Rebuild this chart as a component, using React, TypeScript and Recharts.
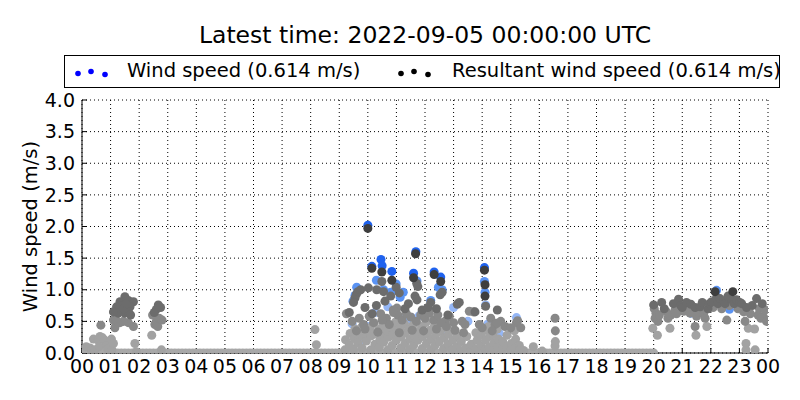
// Wind speed scatter for the last day, coloured by age (older = lighter).

import {
  ScatterChart, Scatter, XAxis, YAxis, ZAxis, CartesianGrid, Label,
} from "recharts";

const FONT = "'DejaVu Sans', sans-serif";

const hourTicks = [0, 1, 2, 3, 4, 5, 6, 7, 8, 9, 10, 11, 12, 13, 14, 15, 16, 17, 18, 19, 20, 21, 22, 23, 24];
const speedTicks = [0, 0.5, 1, 1.5, 2, 2.5, 3, 3.5, 4];

// readings of 0 m/s (the flat band along the axis)
const zeroHours = [
  0, 0.125, 0.25, 0.375, 0.5, 0.625, 0.75, 0.875, 1, 1.125, 1.25, 1.375, 1.5, 1.625, 1.75, 1.875,
  2, 2.125, 2.25, 2.375, 2.5, 2.625, 2.75, 2.875, 3, 3.125, 3.25, 3.375, 3.5, 3.625, 3.75, 3.875,
  4, 4.125, 4.25, 4.375, 4.5, 4.625, 4.75, 4.875, 5, 5.125, 5.25, 5.375, 5.5, 5.625, 5.75, 5.875,
  6, 6.125, 6.25, 6.375, 6.5, 6.625, 6.75, 6.875, 7, 7.125, 7.25, 7.375, 7.5, 7.625, 7.75, 7.875,
  8, 8.125, 8.25, 8.375, 8.5, 8.625, 8.75, 8.875, 9, 9.125, 9.25, 9.375, 9.5, 9.625, 9.75, 9.875,
  10, 10.125, 10.25, 10.375, 10.5, 10.625, 10.75, 10.875, 11, 11.125, 11.25, 11.375, 11.5, 11.625,
  11.75, 11.875, 12, 12.125, 12.25, 12.375, 12.5, 12.625, 12.75, 12.875, 13, 13.125, 13.25, 13.375,
  13.5, 13.625, 13.75, 13.875, 14, 14.125, 14.25, 14.375, 14.5, 14.625, 14.75, 14.875, 15, 15.125,
  15.25, 15.375, 15.5, 15.625, 15.75, 15.875, 16, 16.125, 16.25, 16.375, 16.5, 16.625, 16.75,
  16.875, 17, 17.125, 17.25, 17.375, 17.5, 17.625, 17.75, 17.875, 18, 18.125, 18.25, 18.375, 18.5,
  18.625, 18.75, 18.875, 19, 19.125, 19.25, 19.375, 19.5, 19.625, 19.75, 19.875, 20,
];

// wind speed [hour, m/s]
const windLight: [number, number][] = [
  [10.25, 0.64], [11.53, 0.56], [13.0, 0.72], [14.12, 0.76], [15.2, 0.56], [9.45, 0.46],
  [10.6, 0.4], [11.3, 0.55], [12.0, 0.63], [13.5, 0.5], [14.2, 0.46], [10.0, 0.42],
  [12.7, 0.36], [11.8, 0.59], [14.6, 0.31], [10.7, 0.73], [11.45, 0.52], [9.9, 0.2],
];
const windMid: [number, number][] = [
  [9.61, 1.04], [10.3, 1.15], [11.24, 0.96], [11.13, 0.88], [12.47, 1.04], [10.99, 1.09],
  [11.72, 1.14], [9.55, 0.91], [14.1, 0.96], [14.08, 1.13], [12.6, 1.0], [10.8, 0.96],
  [22.2, 0.99], [22.65, 0.69], [21.3, 0.63], [9.48, 0.82], [12.2, 0.83], [10.55, 1.0],
];
const windDark: [number, number][] = [
  [10.0, 2.02], [10.46, 1.48], [10.5, 1.38], [10.84, 1.29], [11.6, 1.26], [12.55, 1.2],
  [12.32, 1.28], [14.08, 1.35], [11.68, 1.6], [10.14, 1.37],
];

// resultant wind speed [hour, m/s]
const resultantOld: [number, number][] = [
  [0.15, 0.1], [0.28, 0.08], [0.35, 0.04], [0.4, 0.22], [0.45, 0.05], [0.57, 0.2], [0.6, 0.1],
  [0.63, 0.26], [0.72, 0.24], [0.8, 0.2], [0.85, 0.12], [0.9, 0.06], [1.03, 0.22], [1.05, 0.05],
  [1.1, 0.15], [1.85, 0.15], [1.9, 0.02], [2.44, 0.28], [2.78, 0.05], [8.15, 0.37], [8.2, 0.13],
  [9.2, 0.05], [9.22, 0.21], [9.35, 0.13], [9.38, 0.31], [9.5, 0.06], [9.52, 0.23], [9.55, 0.38],
  [9.65, 0.16], [9.68, 0.29], [9.8, 0.08], [9.82, 0.26], [9.78, 0.41], [9.95, 0.19], [9.97, 0.33],
  [10.1, 0.05], [10.12, 0.27], [10.08, 0.4], [10.25, 0.14], [10.27, 0.31], [10.22, 0.47],
  [10.4, 0.09], [10.42, 0.22], [10.38, 0.37], [10.55, 0.17], [10.57, 0.3], [10.53, 0.44],
  [10.7, 0.05], [10.72, 0.25], [10.68, 0.35], [10.85, 0.12], [10.87, 0.29], [10.83, 0.41],
  [11.0, 0.2], [11.02, 0.36], [10.97, 0.49], [11.15, 0.08], [11.17, 0.26], [11.13, 0.4],
  [11.3, 0.15], [11.32, 0.32], [11.28, 0.46], [11.45, 0.05], [11.47, 0.22], [11.43, 0.38],
  [11.6, 0.12], [11.62, 0.28], [11.58, 0.44], [11.75, 0.2], [11.77, 0.34], [11.9, 0.07],
  [11.92, 0.26], [11.88, 0.42], [12.05, 0.15], [12.07, 0.3], [12.03, 0.48], [12.2, 0.05],
  [12.22, 0.22], [12.18, 0.36], [12.35, 0.12], [12.37, 0.28], [12.33, 0.43], [12.5, 0.18],
  [12.52, 0.34], [12.65, 0.07], [12.67, 0.24], [12.63, 0.4], [12.8, 0.14], [12.82, 0.3],
  [12.95, 0.05], [12.97, 0.2], [12.93, 0.35], [13.1, 0.1], [13.12, 0.27], [13.25, 0.04],
  [13.27, 0.18], [13.46, 0.26], [13.44, 0.08], [13.6, 0.03], [13.62, 0.14], [13.8, 0.06],
  [13.82, 0.2], [13.78, 0.32], [13.95, 0.12], [13.97, 0.28], [14.1, 0.05], [14.12, 0.2],
  [14.08, 0.36], [14.25, 0.1], [14.27, 0.26], [14.23, 0.42], [14.4, 0.04], [14.42, 0.16],
  [14.38, 0.3], [14.55, 0.1], [14.57, 0.22], [14.53, 0.38], [14.7, 0.05], [14.72, 0.18],
  [14.85, 0.1], [14.87, 0.28], [15.0, 0.04], [15.02, 0.15], [15.15, 0.08], [15.17, 0.22],
  [15.13, 0.35], [15.3, 0.12], [15.32, 0.05], [15.45, 0.04], [15.79, 0.1], [16.1, 0.03],
  [16.55, 0.11], [16.56, 0.18], [19.97, 0.39], [20.13, 0.28], [21.48, 0.28], [23.23, 0.15],
  [23.55, 0.05], [23.23, 0.05], [23.31, 0.39], [23.53, 0.38], [21.86, 0.42], [20.57, 0.39],
];
const resultantMid: [number, number][] = [
  [0.66, 0.44], [2.47, 0.6], [2.55, 0.45], [2.6, 0.5], [2.65, 0.42], [2.7, 0.55], [2.8, 0.52],
  [1.15, 0.4], [1.8, 0.42], [1.62, 0.48], [1.33, 0.48], [1.45, 0.5], [1.21, 0.51], [1.1, 0.52],
  [9.25, 0.62], [9.45, 0.5], [9.7, 0.55], [9.85, 0.45], [10.05, 0.58], [10.2, 0.48], [10.45, 0.62],
  [10.65, 0.55], [10.9, 0.64], [11.05, 0.6], [11.2, 0.52], [11.35, 0.62], [11.5, 0.57],
  [11.85, 0.6], [12.0, 0.55], [12.15, 0.63], [12.3, 0.52], [12.45, 0.6], [12.7, 0.5],
  [12.85, 0.58], [13.0, 0.48], [13.3, 0.5], [13.4, 0.45], [13.55, 0.66], [13.9, 0.45],
  [14.3, 0.55], [14.45, 0.45], [14.65, 0.5], [14.8, 0.42], [15.0, 0.4], [15.2, 0.48],
  [15.35, 0.4], [16.55, 0.55], [16.56, 0.35], [12.82, 0.57], [11.02, 0.71], [10.89, 0.68],
  [12.12, 0.71], [14.51, 0.47], [15.24, 0.51], [13.69, 0.65],
  [9.6, 0.35], [9.9, 0.38], [10.35, 0.33], [10.75, 0.45], [11.1, 0.32], [11.55, 0.36],
  [11.95, 0.35], [12.4, 0.38], [12.75, 0.42], [13.05, 0.36], [13.35, 0.32], [14.0, 0.4],
  [14.35, 0.35], [10.5, 0.52], [11.7, 0.5], [12.55, 0.48],
  [20.02, 0.7], [20.08, 0.63], [20.05, 0.55], [20.15, 0.5], [20.2, 0.6], [20.45, 0.65],
  [20.5, 0.55], [20.6, 0.6], [20.75, 0.68], [20.8, 0.62], [21.05, 0.66], [21.2, 0.7],
  [21.35, 0.68], [21.27, 0.63], [21.5, 0.58], [21.55, 0.65], [21.75, 0.62], [21.8, 0.55],
  [22.08, 0.72], [22.38, 0.7], [22.56, 0.52], [22.65, 0.75], [22.95, 0.7], [23.15, 0.65],
  [23.2, 0.5], [23.38, 0.62], [23.65, 0.6], [23.7, 0.7], [23.75, 0.55], [23.84, 0.57],
  [23.9, 0.68], [23.95, 0.5], [21.45, 0.42],
];
const resultantNew: [number, number][] = [
  [1.5, 0.89], [1.33, 0.81], [1.62, 0.83], [1.8, 0.81], [1.21, 0.73], [1.37, 0.75], [1.68, 0.73],
  [1.5, 0.63], [1.27, 0.63], [1.1, 0.65], [1.62, 0.66], [1.45, 0.7], [1.7, 0.6], [1.55, 0.78],
  [2.67, 0.76], [2.6, 0.69], [2.53, 0.64], [2.75, 0.72],
  [9.55, 0.87], [9.6, 0.93], [9.5, 0.8], [9.65, 0.97], [9.75, 1.0], [10.02, 1.03], [10.31, 1.0],
  [10.49, 1.13], [10.55, 0.97], [10.8, 0.9], [10.99, 1.04], [11.1, 0.95], [11.42, 0.78],
  [11.65, 0.9], [11.72, 0.84], [11.71, 1.1], [11.75, 1.05], [12.53, 0.92], [12.6, 0.96],
  [12.2, 0.8], [13.13, 0.77], [13.2, 0.8], [14.12, 0.74], [9.9, 0.72], [10.3, 0.75], [10.6, 0.82],
  [11.3, 0.7], [11.9, 0.68], [12.1, 0.72], [12.4, 0.7], [12.8, 0.6], [9.35, 0.64], [13.75, 0.65],
  [14.53, 0.68], [10.15, 0.62],
  [20.0, 0.76], [20.28, 0.8], [20.37, 0.7], [20.69, 0.78], [20.87, 0.85], [20.95, 0.75],
  [21.0, 0.72], [21.15, 0.8], [21.3, 0.77], [21.45, 0.72], [21.63, 0.73], [21.7, 0.8],
  [21.9, 0.7], [21.95, 0.78], [22.03, 0.81], [22.2, 0.88], [22.25, 0.78], [22.32, 0.86],
  [22.45, 0.82], [22.5, 0.78], [22.6, 0.9], [22.72, 0.85], [22.82, 0.78], [22.9, 0.84],
  [23.02, 0.8], [23.08, 0.78], [23.25, 0.72], [23.45, 0.75], [23.6, 0.86], [23.8, 0.78],
];
const resultantLatest: [number, number][] = [
  [10.0, 1.97], [10.14, 1.34], [11.67, 1.57], [12.32, 1.24], [14.08, 1.31], [10.49, 1.28],
  [11.6, 1.19], [12.55, 1.13], [14.1, 0.9], [14.1, 1.08], [10.84, 1.15], [22.15, 0.97],
  [22.77, 0.97],
];

const toPoints = (rows: [number, number][]) => rows.map(([h, v]) => ({ h, v }));
const zeroPoints = zeroHours.map((h) => ({ h, v: 0 }));

function hourLabel(h: number): string {
  return String(h % 24).padStart(2, "0");
}

function LegendDots({ color }: { color: string }) {
  return (
    <svg width={36} height={14} style={{ display: "block" }}>
      <circle cx={3} cy={8.5} r={2.8} fill={color} />
      <circle cx={16} cy={6.5} r={2.8} fill={color} />
      <circle cx={30} cy={9.5} r={2.8} fill={color} />
    </svg>
  );
}

function YLabel(props: any) {
  const { viewBox } = props;
  const cx = viewBox.x + 8;
  const cy = viewBox.y + viewBox.height / 2;
  return (
    <text
      x={cx}
      y={cy}
      transform={`rotate(-90 ${cx} ${cy})`}
      textAnchor="middle"
      dominantBaseline="central"
      fontSize={19.5}
      fontFamily={FONT}
      fill="#000"
    >
      Wind speed (m/s)
    </text>
  );
}

export default function App() {
  const tickStyle = { fontSize: 19, fontFamily: FONT, fill: "#000" };
  const legendText = { position: "absolute" as const, top: 3, lineHeight: "24px", whiteSpace: "nowrap" as const };
  return (
    <div style={{ position: "absolute", left: 0, top: 0, width: 800, height: 400, background: "#fff", fontFamily: FONT }}>
      <div style={{ position: "absolute", left: 82, width: 686, top: 20, textAlign: "center", fontSize: 23.5, lineHeight: "30px", whiteSpace: "nowrap" }}>
        Latest time: 2022-09-05 00:00:00 UTC
      </div>
      <div style={{ position: "absolute", left: 64, top: 55, width: 714, height: 31, border: "1px solid #000", background: "#fff", fontSize: 19.5 }}>
        <div style={{ position: "absolute", left: 10, top: 9 }}><LegendDots color="#0000ff" /></div>
        <div style={{ ...legendText, left: 62 }}>Wind speed (0.614 m/s)</div>
        <div style={{ position: "absolute", left: 333, top: 9 }}><LegendDots color="#000000" /></div>
        <div style={{ ...legendText, left: 387 }}>Resultant wind speed (0.614 m/s)</div>
      </div>
      <ScatterChart width={800} height={400} margin={{ top: 100, right: 32, bottom: 17, left: 22 }}>
        <CartesianGrid stroke="#000" strokeDasharray="1 3" />
        <XAxis
          type="number" dataKey="h" domain={[0, 24]} ticks={hourTicks} allowDataOverflow
          tickFormatter={hourLabel} height={30} tickSize={-5} tickMargin={12}
          stroke="#000" tick={tickStyle} interval={0}
        />
        <XAxis
          xAxisId="top" orientation="top" type="number" domain={[0, 24]} ticks={hourTicks}
          height={0} tickSize={-5} tick={false} stroke="#000"
        />
        <YAxis
          type="number" dataKey="v" domain={[0, 4]} ticks={speedTicks} allowDataOverflow
          tickFormatter={(v: number) => v.toFixed(1)} width={60} tickSize={-5} tickMargin={12}
          stroke="#000" tick={tickStyle} interval={0}
          label={<Label content={<YLabel />} />}
        />
        <YAxis
          yAxisId="right" orientation="right" type="number" domain={[0, 4]} ticks={speedTicks}
          width={0} tickSize={-5} tick={false} stroke="#000"
        />
        <ZAxis range={[42, 42]} />
        <Scatter data={zeroPoints} fill="#a8a8a8" isAnimationActive={false} />
        <Scatter data={toPoints(windLight)} fill="#94b6f6" isAnimationActive={false} />
        <Scatter data={toPoints(windMid)} fill="#5a93f3" isAnimationActive={false} />
        <Scatter data={toPoints(windDark)} fill="#1f62ee" isAnimationActive={false} />
        <Scatter data={toPoints(resultantOld)} fill="#a2a2a2" isAnimationActive={false} />
        <Scatter data={toPoints(resultantMid)} fill="#888888" isAnimationActive={false} />
        <Scatter data={toPoints(resultantNew)} fill="#6c6c6c" isAnimationActive={false} />
        <Scatter data={toPoints(resultantLatest)} fill="#3e3e3e" isAnimationActive={false} />
      </ScatterChart>
    </div>
  );
}
